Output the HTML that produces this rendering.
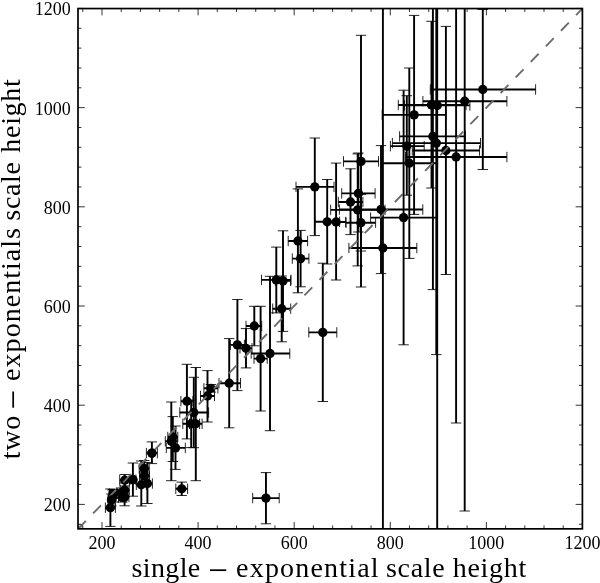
<!DOCTYPE html>
<html><head><meta charset="utf-8"><title>scale height</title>
<style>html,body{margin:0;padding:0;background:#fff}svg{display:block}text{font-family:"Liberation Serif",serif;fill:#000}</style></head><body>
<svg width="600" height="583" viewBox="0 0 600 583">
<rect width="600" height="583" fill="#fff"/>
<defs><clipPath id="c"><rect x="78.0" y="8.55" width="504.4" height="520.3000000000001"/></clipPath></defs>
<g clip-path="url(#c)">
<path d="M105.4 507.7H115.4M110.4 489.0V526.4" stroke="#000" stroke-width="1.9" fill="none"/>
<path d="M105.4 502.5V512.9M115.4 502.5V512.9M105.2 489.0H115.60000000000001M105.2 526.4H115.60000000000001" stroke="#000" stroke-width="0.85" fill="none"/>
<path d="M108.0 499.8H115.0M111.5 494.0V506.0" stroke="#000" stroke-width="1.9" fill="none"/>
<path d="M108.0 494.6V505.0M115.0 494.6V505.0M106.3 494.0H116.7M106.3 506.0H116.7" stroke="#000" stroke-width="0.85" fill="none"/>
<path d="M109.0 496.0H116.2M112.6 490.0V502.0" stroke="#000" stroke-width="1.9" fill="none"/>
<path d="M109.0 490.8V501.2M116.2 490.8V501.2M107.39999999999999 490.0H117.8M107.39999999999999 502.0H117.8" stroke="#000" stroke-width="0.85" fill="none"/>
<path d="M109.5 493.6H116.9M113.2 489.5V498.0" stroke="#000" stroke-width="1.9" fill="none"/>
<path d="M109.5 488.40000000000003V498.8M116.9 488.40000000000003V498.8M108.0 489.5H118.4M108.0 498.0H118.4" stroke="#000" stroke-width="0.85" fill="none"/>
<path d="M120.3 497.0H128.9M124.6 490.6V505.8" stroke="#000" stroke-width="1.9" fill="none"/>
<path d="M120.3 491.8V502.2M128.9 491.8V502.2M119.39999999999999 490.6H129.79999999999998M119.39999999999999 505.8H129.79999999999998" stroke="#000" stroke-width="0.85" fill="none"/>
<path d="M117.0 493.0H125.0M121.0 488.0V498.0" stroke="#000" stroke-width="1.9" fill="none"/>
<path d="M117.0 487.8V498.2M125.0 487.8V498.2M115.8 488.0H126.2M115.8 498.0H126.2" stroke="#000" stroke-width="0.85" fill="none"/>
<path d="M118.5 497.3H126.0M122.3 492.5V502.0" stroke="#000" stroke-width="1.9" fill="none"/>
<path d="M118.5 492.1V502.5M126.0 492.1V502.5M117.1 492.5H127.5M117.1 502.0H127.5" stroke="#000" stroke-width="0.85" fill="none"/>
<path d="M120.2 490.0H129.2M124.7 483.0V497.0" stroke="#000" stroke-width="1.9" fill="none"/>
<path d="M120.2 484.8V495.2M129.2 484.8V495.2M119.5 483.0H129.9M119.5 497.0H129.9" stroke="#000" stroke-width="0.85" fill="none"/>
<path d="M119.7 480.2H129.7M124.7 474.5V486.0" stroke="#000" stroke-width="1.9" fill="none"/>
<path d="M119.7 475.0V485.4M129.7 475.0V485.4M119.5 474.5H129.9M119.5 486.0H129.9" stroke="#000" stroke-width="0.85" fill="none"/>
<path d="M129.9 479.7H135.9M132.9 463.0V496.2" stroke="#000" stroke-width="1.9" fill="none"/>
<path d="M129.9 474.5V484.9M135.9 474.5V484.9M127.7 463.0H138.1M127.7 496.2H138.1" stroke="#000" stroke-width="0.85" fill="none"/>
<path d="M136.3 484.8H146.3M141.3 461.0V506.0" stroke="#000" stroke-width="1.9" fill="none"/>
<path d="M136.3 479.6V490.0M146.3 479.6V490.0M136.10000000000002 461.0H146.5M136.10000000000002 506.0H146.5" stroke="#000" stroke-width="0.85" fill="none"/>
<path d="M142.4 483.5H152.4M147.4 462.5V503.5" stroke="#000" stroke-width="1.9" fill="none"/>
<path d="M142.4 478.3V488.7M152.4 478.3V488.7M142.20000000000002 462.5H152.6M142.20000000000002 503.5H152.6" stroke="#000" stroke-width="0.85" fill="none"/>
<path d="M139.2 468.5H149.2M144.2 460.5V476.5" stroke="#000" stroke-width="1.9" fill="none"/>
<path d="M139.2 463.3V473.7M149.2 463.3V473.7M139.0 460.5H149.39999999999998M139.0 476.5H149.39999999999998" stroke="#000" stroke-width="0.85" fill="none"/>
<path d="M139.5 476.0H149.5M144.5 468.0V484.0" stroke="#000" stroke-width="1.9" fill="none"/>
<path d="M139.5 470.8V481.2M149.5 470.8V481.2M139.3 468.0H149.7M139.3 484.0H149.7" stroke="#000" stroke-width="0.85" fill="none"/>
<path d="M146.4 453.1H157.4M151.9 441.9V463.6" stroke="#000" stroke-width="1.9" fill="none"/>
<path d="M146.4 447.90000000000003V458.3M157.4 447.90000000000003V458.3M146.70000000000002 441.9H157.1M146.70000000000002 463.6H157.1" stroke="#000" stroke-width="0.85" fill="none"/>
<path d="M165.3 441.3H177.3M171.3 402.0V480.7" stroke="#000" stroke-width="1.9" fill="none"/>
<path d="M165.3 436.1V446.5M177.3 436.1V446.5M166.10000000000002 402.0H176.5M166.10000000000002 480.7H176.5" stroke="#000" stroke-width="0.85" fill="none"/>
<path d="M167.8 437.0H177.8M172.8 416.6V461.5" stroke="#000" stroke-width="1.9" fill="none"/>
<path d="M167.8 431.8V442.2M177.8 431.8V442.2M167.60000000000002 416.6H178.0M167.60000000000002 461.5H178.0" stroke="#000" stroke-width="0.85" fill="none"/>
<path d="M166.3 447.9H185.3M175.5 426.0V469.4" stroke="#000" stroke-width="1.9" fill="none"/>
<path d="M166.3 442.7V453.09999999999997M185.3 442.7V453.09999999999997M170.3 426.0H180.7M170.3 469.4H180.7" stroke="#000" stroke-width="0.85" fill="none"/>
<path d="M175.8 488.8H187.6M181.7 482.1V495.5" stroke="#000" stroke-width="1.9" fill="none"/>
<path d="M175.8 483.6V494.0M187.6 483.6V494.0M176.5 482.1H186.89999999999998M176.5 495.5H186.89999999999998" stroke="#000" stroke-width="0.85" fill="none"/>
<path d="M180.9 401.2H192.9M186.9 364.3V438.9" stroke="#000" stroke-width="1.9" fill="none"/>
<path d="M180.9 396.0V406.4M192.9 396.0V406.4M181.70000000000002 364.3H192.1M181.70000000000002 438.9H192.1" stroke="#000" stroke-width="0.85" fill="none"/>
<path d="M179.8 412.5H208.6M193.8 377.3V447.7" stroke="#000" stroke-width="1.9" fill="none"/>
<path d="M179.8 407.3V417.7M208.6 407.3V417.7M188.60000000000002 377.3H199.0M188.60000000000002 447.7H199.0" stroke="#000" stroke-width="0.85" fill="none"/>
<path d="M182.8 423.8H199.6M191.2 400.0V447.6" stroke="#000" stroke-width="1.9" fill="none"/>
<path d="M182.8 418.6V429.0M199.6 418.6V429.0M186.0 400.0H196.39999999999998M186.0 447.6H196.39999999999998" stroke="#000" stroke-width="0.85" fill="none"/>
<path d="M189.5 423.8H202.1M195.8 367.5V480.7" stroke="#000" stroke-width="1.9" fill="none"/>
<path d="M189.5 418.6V429.0M202.1 418.6V429.0M190.60000000000002 367.5H201.0M190.60000000000002 480.7H201.0" stroke="#000" stroke-width="0.85" fill="none"/>
<path d="M200.5 396.0H214.5M207.5 370.6V422.0" stroke="#000" stroke-width="1.9" fill="none"/>
<path d="M200.5 390.8V401.2M214.5 390.8V401.2M202.3 370.6H212.7M202.3 422.0H212.7" stroke="#000" stroke-width="0.85" fill="none"/>
<path d="M203.9 388.3H217.9M210.9 384.5V392.1" stroke="#000" stroke-width="1.9" fill="none"/>
<path d="M203.9 383.1V393.5M217.9 383.1V393.5M205.70000000000002 384.5H216.1M205.70000000000002 392.1H216.1" stroke="#000" stroke-width="0.85" fill="none"/>
<path d="M219.0 383.2H240.5M229.2 338.6V427.8" stroke="#000" stroke-width="1.9" fill="none"/>
<path d="M219.0 378.0V388.4M240.5 378.0V388.4M224.0 338.6H234.39999999999998M224.0 427.8H234.39999999999998" stroke="#000" stroke-width="0.85" fill="none"/>
<path d="M230.4 344.9H244.4M237.4 299.5V390.6" stroke="#000" stroke-width="1.9" fill="none"/>
<path d="M230.4 339.7V350.09999999999997M244.4 339.7V350.09999999999997M232.20000000000002 299.5H242.6M232.20000000000002 390.6H242.6" stroke="#000" stroke-width="0.85" fill="none"/>
<path d="M240.0 348.3H252.0M246.0 328.6V367.9" stroke="#000" stroke-width="1.9" fill="none"/>
<path d="M240.0 343.1V353.5M252.0 343.1V353.5M240.8 328.6H251.2M240.8 367.9H251.2" stroke="#000" stroke-width="0.85" fill="none"/>
<path d="M246.0 326.0H261.7M254.3 306.3V345.8" stroke="#000" stroke-width="1.9" fill="none"/>
<path d="M246.0 320.8V331.2M261.7 320.8V331.2M249.10000000000002 306.3H259.5M249.10000000000002 345.8H259.5" stroke="#000" stroke-width="0.85" fill="none"/>
<path d="M254.0 358.6H267.2M260.6 306.3V411.0" stroke="#000" stroke-width="1.9" fill="none"/>
<path d="M254.0 353.40000000000003V363.8M267.2 353.40000000000003V363.8M255.40000000000003 306.3H265.8M255.40000000000003 411.0H265.8" stroke="#000" stroke-width="0.85" fill="none"/>
<path d="M251.2 353.5H289.8M270.0 276.3V430.7" stroke="#000" stroke-width="1.9" fill="none"/>
<path d="M251.2 348.3V358.7M289.8 348.3V358.7M264.8 276.3H275.2M264.8 430.7H275.2" stroke="#000" stroke-width="0.85" fill="none"/>
<path d="M261.5 279.9H291.0M276.3 247.1V312.9" stroke="#000" stroke-width="1.9" fill="none"/>
<path d="M261.5 274.7V285.09999999999997M291.0 274.7V285.09999999999997M271.1 247.1H281.5M271.1 312.9H281.5" stroke="#000" stroke-width="0.85" fill="none"/>
<path d="M275.4 280.9H290.6M283.0 230.8V331.4" stroke="#000" stroke-width="1.9" fill="none"/>
<path d="M275.4 275.7V286.09999999999997M290.6 275.7V286.09999999999997M277.8 230.8H288.2M277.8 331.4H288.2" stroke="#000" stroke-width="0.85" fill="none"/>
<path d="M272.7 308.7H290.7M281.7 276.0V341.8" stroke="#000" stroke-width="1.9" fill="none"/>
<path d="M272.7 303.5V313.9M290.7 303.5V313.9M276.5 276.0H286.9M276.5 341.8H286.9" stroke="#000" stroke-width="0.85" fill="none"/>
<path d="M288.2 241.0H307.6M297.9 188.9V292.8" stroke="#000" stroke-width="1.9" fill="none"/>
<path d="M288.2 235.8V246.2M307.6 235.8V246.2M292.7 188.9H303.09999999999997M292.7 292.8H303.09999999999997" stroke="#000" stroke-width="0.85" fill="none"/>
<path d="M292.3 258.6H308.9M300.6 230.4V286.8" stroke="#000" stroke-width="1.9" fill="none"/>
<path d="M292.3 253.40000000000003V263.8M308.9 253.40000000000003V263.8M295.40000000000003 230.4H305.8M295.40000000000003 286.8H305.8" stroke="#000" stroke-width="0.85" fill="none"/>
<path d="M296.0 186.9H334.0M314.8 138.0V235.6" stroke="#000" stroke-width="1.9" fill="none"/>
<path d="M296.0 181.70000000000002V192.1M334.0 181.70000000000002V192.1M309.6 138.0H320.0M309.6 235.6H320.0" stroke="#000" stroke-width="0.85" fill="none"/>
<path d="M314.8 221.8H339.6M327.2 179.5V264.0" stroke="#000" stroke-width="1.9" fill="none"/>
<path d="M314.8 216.60000000000002V227.0M339.6 216.60000000000002V227.0M322.0 179.5H332.4M322.0 264.0H332.4" stroke="#000" stroke-width="0.85" fill="none"/>
<path d="M326.6 222.0H345.6M336.1 163.1V280.0" stroke="#000" stroke-width="1.9" fill="none"/>
<path d="M326.6 216.8V227.2M345.6 216.8V227.2M330.90000000000003 163.1H341.3M330.90000000000003 280.0H341.3" stroke="#000" stroke-width="0.85" fill="none"/>
<path d="M308.8 332.4H336.8M322.8 263.2V401.5" stroke="#000" stroke-width="1.9" fill="none"/>
<path d="M308.8 327.2V337.59999999999997M336.8 327.2V337.59999999999997M317.6 263.2H328.0M317.6 401.5H328.0" stroke="#000" stroke-width="0.85" fill="none"/>
<path d="M343.5 161.4H378.5M361.0 35.3V287.0" stroke="#000" stroke-width="1.9" fill="none"/>
<path d="M343.5 156.20000000000002V166.6M378.5 156.20000000000002V166.6M355.8 35.3H366.2M355.8 287.0H366.2" stroke="#000" stroke-width="0.85" fill="none"/>
<path d="M341.7 193.4H375.1M358.4 153.0V232.0" stroke="#000" stroke-width="1.9" fill="none"/>
<path d="M341.7 188.20000000000002V198.6M375.1 188.20000000000002V198.6M353.2 153.0H363.59999999999997M353.2 232.0H363.59999999999997" stroke="#000" stroke-width="0.85" fill="none"/>
<path d="M338.3 202.0H362.9M350.5 168.8V234.6" stroke="#000" stroke-width="1.9" fill="none"/>
<path d="M338.3 196.8V207.2M362.9 196.8V207.2M345.3 168.8H355.7M345.3 234.6H355.7" stroke="#000" stroke-width="0.85" fill="none"/>
<path d="M330.7 209.9H385.0M357.7 153.9V265.9" stroke="#000" stroke-width="1.9" fill="none"/>
<path d="M330.7 204.70000000000002V215.1M385.0 204.70000000000002V215.1M352.5 153.9H362.9M352.5 265.9H362.9" stroke="#000" stroke-width="0.85" fill="none"/>
<path d="M346.1 222.7H375.6M360.9 194.4V251.0" stroke="#000" stroke-width="1.9" fill="none"/>
<path d="M346.1 217.5V227.89999999999998M375.6 217.5V227.89999999999998M355.7 194.4H366.09999999999997M355.7 251.0H366.09999999999997" stroke="#000" stroke-width="0.85" fill="none"/>
<path d="M339.4 209.5H422.8M381.0 145.6V273.6" stroke="#000" stroke-width="1.9" fill="none"/>
<path d="M339.4 204.3V214.7M422.8 204.3V214.7M375.8 145.6H386.2M375.8 273.6H386.2" stroke="#000" stroke-width="0.85" fill="none"/>
<path d="M348.9 248.0H416.8M382.9 -300V900" stroke="#000" stroke-width="1.9" fill="none"/>
<path d="M348.9 242.8V253.2M416.8 242.8V253.2M377.7 -300H388.09999999999997M377.7 900H388.09999999999997" stroke="#000" stroke-width="0.85" fill="none"/>
<path d="M370.6 217.6H436.8M403.6 90.2V344.8" stroke="#000" stroke-width="1.9" fill="none"/>
<path d="M370.6 212.4V222.79999999999998M436.8 212.4V222.79999999999998M398.40000000000003 90.2H408.8M398.40000000000003 344.8H408.8" stroke="#000" stroke-width="0.85" fill="none"/>
<path d="M382.2 114.9H445.9M414.1 15.4V214.4" stroke="#000" stroke-width="1.9" fill="none"/>
<path d="M382.2 109.7V120.10000000000001M445.9 109.7V120.10000000000001M408.90000000000003 15.4H419.3M408.90000000000003 214.4H419.3" stroke="#000" stroke-width="0.85" fill="none"/>
<path d="M390.4 146.1H424.2M406.8 95.7V195.2" stroke="#000" stroke-width="1.9" fill="none"/>
<path d="M390.4 140.9V151.29999999999998M424.2 140.9V151.29999999999998M401.6 95.7H412.0M401.6 195.2H412.0" stroke="#000" stroke-width="0.85" fill="none"/>
<path d="M381.5 163.2H437.6M409.3 68.0V258.4" stroke="#000" stroke-width="1.9" fill="none"/>
<path d="M381.5 158.0V168.39999999999998M437.6 158.0V168.39999999999998M404.1 68.0H414.5M404.1 258.4H414.5" stroke="#000" stroke-width="0.85" fill="none"/>
<path d="M398.3 105.0H466.0M431.5 21.3V188.0" stroke="#000" stroke-width="1.9" fill="none"/>
<path d="M398.3 99.8V110.2M466.0 99.8V110.2M426.3 21.3H436.7M426.3 188.0H436.7" stroke="#000" stroke-width="0.85" fill="none"/>
<path d="M404.5 105.4H469.9M437.2 -300V900" stroke="#000" stroke-width="1.9" fill="none"/>
<path d="M404.5 100.2V110.60000000000001M469.9 100.2V110.60000000000001M432.0 -300H442.4M432.0 900H442.4" stroke="#000" stroke-width="0.85" fill="none"/>
<path d="M399.6 136.4H465.5M432.9 -17V289.6" stroke="#000" stroke-width="1.9" fill="none"/>
<path d="M399.6 131.20000000000002V141.6M465.5 131.20000000000002V141.6M427.7 -17H438.09999999999997M427.7 289.6H438.09999999999997" stroke="#000" stroke-width="0.85" fill="none"/>
<path d="M392.4 143.1H480.5M436.3 -68V354.6" stroke="#000" stroke-width="1.9" fill="none"/>
<path d="M392.4 137.9V148.29999999999998M480.5 137.9V148.29999999999998M431.1 -68H441.5M431.1 354.6H441.5" stroke="#000" stroke-width="0.85" fill="none"/>
<path d="M412.3 150.5H479.5M445.9 26.4V274.5" stroke="#000" stroke-width="1.9" fill="none"/>
<path d="M412.3 145.3V155.7M479.5 145.3V155.7M440.7 26.4H451.09999999999997M440.7 274.5H451.09999999999997" stroke="#000" stroke-width="0.85" fill="none"/>
<path d="M405.5 157.0H506.9M456.1 -109V423.0" stroke="#000" stroke-width="1.9" fill="none"/>
<path d="M405.5 151.8V162.2M506.9 151.8V162.2M450.90000000000003 -109H461.3M450.90000000000003 423.0H461.3" stroke="#000" stroke-width="0.85" fill="none"/>
<path d="M422.9 101.2H506.9M464.7 -309V511.0" stroke="#000" stroke-width="1.9" fill="none"/>
<path d="M422.9 96.0V106.4M506.9 96.0V106.4M459.5 -309H469.9M459.5 511.0H469.9" stroke="#000" stroke-width="0.85" fill="none"/>
<path d="M430.3 89.5H535.6M482.8 9.5V169.5" stroke="#000" stroke-width="1.9" fill="none"/>
<path d="M430.3 84.3V94.7M535.6 84.3V94.7M477.6 9.5H488.0M477.6 169.5H488.0" stroke="#000" stroke-width="0.85" fill="none"/>
<path d="M252.7 498.1H279.2M265.95 472.6V523.8" stroke="#000" stroke-width="1.9" fill="none"/>
<path d="M252.7 492.90000000000003V503.3M279.2 492.90000000000003V503.3M260.75 472.6H271.15M260.75 523.8H271.15" stroke="#000" stroke-width="0.85" fill="none"/>
<circle cx="110.4" cy="507.7" r="4.65" fill="#000"/>
<circle cx="111.5" cy="499.8" r="4.65" fill="#000"/>
<circle cx="112.6" cy="496.0" r="4.65" fill="#000"/>
<circle cx="113.2" cy="493.6" r="4.65" fill="#000"/>
<circle cx="124.6" cy="497.0" r="4.65" fill="#000"/>
<circle cx="121.0" cy="493.0" r="4.65" fill="#000"/>
<circle cx="122.3" cy="497.3" r="4.65" fill="#000"/>
<circle cx="124.7" cy="490.0" r="4.65" fill="#000"/>
<circle cx="124.7" cy="480.2" r="4.65" fill="#000"/>
<circle cx="132.9" cy="479.7" r="4.65" fill="#000"/>
<circle cx="141.3" cy="484.8" r="4.65" fill="#000"/>
<circle cx="147.4" cy="483.5" r="4.65" fill="#000"/>
<circle cx="144.2" cy="468.5" r="4.65" fill="#000"/>
<circle cx="144.5" cy="476.0" r="4.65" fill="#000"/>
<circle cx="151.9" cy="453.1" r="4.65" fill="#000"/>
<circle cx="171.3" cy="441.3" r="4.65" fill="#000"/>
<circle cx="172.8" cy="437.0" r="4.65" fill="#000"/>
<circle cx="175.5" cy="447.9" r="4.65" fill="#000"/>
<circle cx="181.7" cy="488.8" r="4.65" fill="#000"/>
<circle cx="186.9" cy="401.2" r="4.65" fill="#000"/>
<circle cx="193.8" cy="412.5" r="4.65" fill="#000"/>
<circle cx="191.2" cy="423.8" r="4.65" fill="#000"/>
<circle cx="195.8" cy="423.8" r="4.65" fill="#000"/>
<circle cx="207.5" cy="396.0" r="4.65" fill="#000"/>
<circle cx="210.9" cy="388.3" r="4.65" fill="#000"/>
<circle cx="229.2" cy="383.2" r="4.65" fill="#000"/>
<circle cx="237.4" cy="344.9" r="4.65" fill="#000"/>
<circle cx="246.0" cy="348.3" r="4.65" fill="#000"/>
<circle cx="254.3" cy="326.0" r="4.65" fill="#000"/>
<circle cx="260.6" cy="358.6" r="4.65" fill="#000"/>
<circle cx="270.0" cy="353.5" r="4.65" fill="#000"/>
<circle cx="276.3" cy="279.9" r="4.65" fill="#000"/>
<circle cx="283.0" cy="280.9" r="4.65" fill="#000"/>
<circle cx="281.7" cy="308.7" r="4.65" fill="#000"/>
<circle cx="297.9" cy="241.0" r="4.65" fill="#000"/>
<circle cx="300.6" cy="258.6" r="4.65" fill="#000"/>
<circle cx="314.8" cy="186.9" r="4.65" fill="#000"/>
<circle cx="327.2" cy="221.8" r="4.65" fill="#000"/>
<circle cx="336.1" cy="222.0" r="4.65" fill="#000"/>
<circle cx="322.8" cy="332.4" r="4.65" fill="#000"/>
<circle cx="361.0" cy="161.4" r="4.65" fill="#000"/>
<circle cx="358.4" cy="193.4" r="4.65" fill="#000"/>
<circle cx="350.5" cy="202.0" r="4.65" fill="#000"/>
<circle cx="357.7" cy="209.9" r="4.65" fill="#000"/>
<circle cx="360.9" cy="222.7" r="4.65" fill="#000"/>
<circle cx="381.0" cy="209.5" r="4.65" fill="#000"/>
<circle cx="382.9" cy="248.0" r="4.65" fill="#000"/>
<circle cx="403.6" cy="217.6" r="4.65" fill="#000"/>
<circle cx="414.1" cy="114.9" r="4.65" fill="#000"/>
<circle cx="406.8" cy="146.1" r="4.65" fill="#000"/>
<circle cx="409.3" cy="163.2" r="4.65" fill="#000"/>
<circle cx="431.5" cy="105.0" r="4.65" fill="#000"/>
<circle cx="437.2" cy="105.4" r="4.65" fill="#000"/>
<circle cx="432.9" cy="136.4" r="4.65" fill="#000"/>
<circle cx="436.3" cy="143.1" r="4.65" fill="#000"/>
<circle cx="445.9" cy="150.5" r="4.65" fill="#000"/>
<circle cx="456.1" cy="157.0" r="4.65" fill="#000"/>
<circle cx="464.7" cy="101.2" r="4.65" fill="#000"/>
<circle cx="482.8" cy="89.5" r="4.65" fill="#000"/>
<circle cx="265.95" cy="498.1" r="4.65" fill="#000"/>
<path d="M78 529.0L582.4 8.6" stroke="#6c6c6c" stroke-width="1.9" stroke-dasharray="11.3 10.385" fill="none"/>
<circle cx="132.9" cy="479.7" r="4.65" fill="#000"/>
<circle cx="151.9" cy="453.1" r="4.65" fill="#000"/>
<circle cx="111.5" cy="499.8" r="4.65" fill="#000"/>
<circle cx="80.3" cy="526.7" r="2" fill="none" stroke="#555" stroke-width="0.6"/>
</g>
<path d="M82.78 528.85v-3.4M82.78 8.55v3.4M78.0 524.24h3.4M582.4 524.24h-3.4M102.00 528.85v-6.8M102.00 8.55v6.8M78.0 504.40h6.8M582.4 504.40h-6.8M121.22 528.85v-3.4M121.22 8.55v3.4M78.0 484.56h3.4M582.4 484.56h-3.4M140.44 528.85v-3.4M140.44 8.55v3.4M78.0 464.72h3.4M582.4 464.72h-3.4M159.65 528.85v-3.4M159.65 8.55v3.4M78.0 444.88h3.4M582.4 444.88h-3.4M178.87 528.85v-3.4M178.87 8.55v3.4M78.0 425.05h3.4M582.4 425.05h-3.4M198.09 528.85v-6.8M198.09 8.55v6.8M78.0 405.21h6.8M582.4 405.21h-6.8M217.31 528.85v-3.4M217.31 8.55v3.4M78.0 385.37h3.4M582.4 385.37h-3.4M236.53 528.85v-3.4M236.53 8.55v3.4M78.0 365.53h3.4M582.4 365.53h-3.4M255.74 528.85v-3.4M255.74 8.55v3.4M78.0 345.69h3.4M582.4 345.69h-3.4M274.96 528.85v-3.4M274.96 8.55v3.4M78.0 325.85h3.4M582.4 325.85h-3.4M294.18 528.85v-6.8M294.18 8.55v6.8M78.0 306.02h6.8M582.4 306.02h-6.8M313.40 528.85v-3.4M313.40 8.55v3.4M78.0 286.18h3.4M582.4 286.18h-3.4M332.62 528.85v-3.4M332.62 8.55v3.4M78.0 266.34h3.4M582.4 266.34h-3.4M351.83 528.85v-3.4M351.83 8.55v3.4M78.0 246.50h3.4M582.4 246.50h-3.4M371.05 528.85v-3.4M371.05 8.55v3.4M78.0 226.66h3.4M582.4 226.66h-3.4M390.27 528.85v-6.8M390.27 8.55v6.8M78.0 206.82h6.8M582.4 206.82h-6.8M409.49 528.85v-3.4M409.49 8.55v3.4M78.0 186.99h3.4M582.4 186.99h-3.4M428.71 528.85v-3.4M428.71 8.55v3.4M78.0 167.15h3.4M582.4 167.15h-3.4M447.92 528.85v-3.4M447.92 8.55v3.4M78.0 147.31h3.4M582.4 147.31h-3.4M467.14 528.85v-3.4M467.14 8.55v3.4M78.0 127.47h3.4M582.4 127.47h-3.4M486.36 528.85v-6.8M486.36 8.55v6.8M78.0 107.63h6.8M582.4 107.63h-6.8M505.58 528.85v-3.4M505.58 8.55v3.4M78.0 87.79h3.4M582.4 87.79h-3.4M524.80 528.85v-3.4M524.80 8.55v3.4M78.0 67.96h3.4M582.4 67.96h-3.4M544.01 528.85v-3.4M544.01 8.55v3.4M78.0 48.12h3.4M582.4 48.12h-3.4M563.23 528.85v-3.4M563.23 8.55v3.4M78.0 28.28h3.4M582.4 28.28h-3.4M582.45 528.85v-6.8M582.45 8.55v6.8M78.0 8.44h6.8M582.4 8.44h-6.8" stroke="#000" stroke-width="0.8" fill="none"/>
<rect x="78.0" y="8.55" width="504.4" height="520.3000000000001" fill="none" stroke="#000" stroke-width="1.7"/>
<text x="102.00" y="548.6" font-size="18" text-anchor="middle">200</text>
<text x="70.7" y="511.30" font-size="18" text-anchor="end">200</text>
<text x="198.09" y="548.6" font-size="18" text-anchor="middle">400</text>
<text x="70.7" y="412.11" font-size="18" text-anchor="end">400</text>
<text x="294.18" y="548.6" font-size="18" text-anchor="middle">600</text>
<text x="70.7" y="312.92" font-size="18" text-anchor="end">600</text>
<text x="390.27" y="548.6" font-size="18" text-anchor="middle">800</text>
<text x="70.7" y="213.72" font-size="18" text-anchor="end">800</text>
<text x="486.36" y="548.6" font-size="18" text-anchor="middle">1000</text>
<text x="70.7" y="114.53" font-size="18" text-anchor="end">1000</text>
<text x="582.45" y="548.6" font-size="18" text-anchor="middle">1200</text>
<text x="70.7" y="15.34" font-size="18" text-anchor="end">1200</text>
<text y="576.8" font-size="28"><tspan x="131.6" dy="0" font-size="28" letter-spacing="0.35">single</tspan> <tspan x="208.3" dy="4.9" font-size="35" letter-spacing="0">−</tspan> <tspan x="236.1" dy="-4.9" font-size="28" letter-spacing="1.18">exponential</tspan> <tspan x="386.0" dy="0" font-size="28" letter-spacing="0.67">scale</tspan> <tspan x="452.7" dy="0" font-size="28" letter-spacing="0.7">height</tspan></text>
<text transform="translate(20.2 0) rotate(-90)" y="0" font-size="28"><tspan x="-459.2" dy="0" font-size="28" letter-spacing="0.7">two</tspan> <tspan x="-409.5" dy="4.9" font-size="35" letter-spacing="0">−</tspan> <tspan x="-380.9" dy="-4.9" font-size="28" letter-spacing="1.03">exponentials</tspan> <tspan x="-220.7" dy="0" font-size="28" letter-spacing="0.67">scale</tspan> <tspan x="-152.7" dy="0" font-size="28" letter-spacing="0.7">height</tspan></text>
</svg></body></html>
